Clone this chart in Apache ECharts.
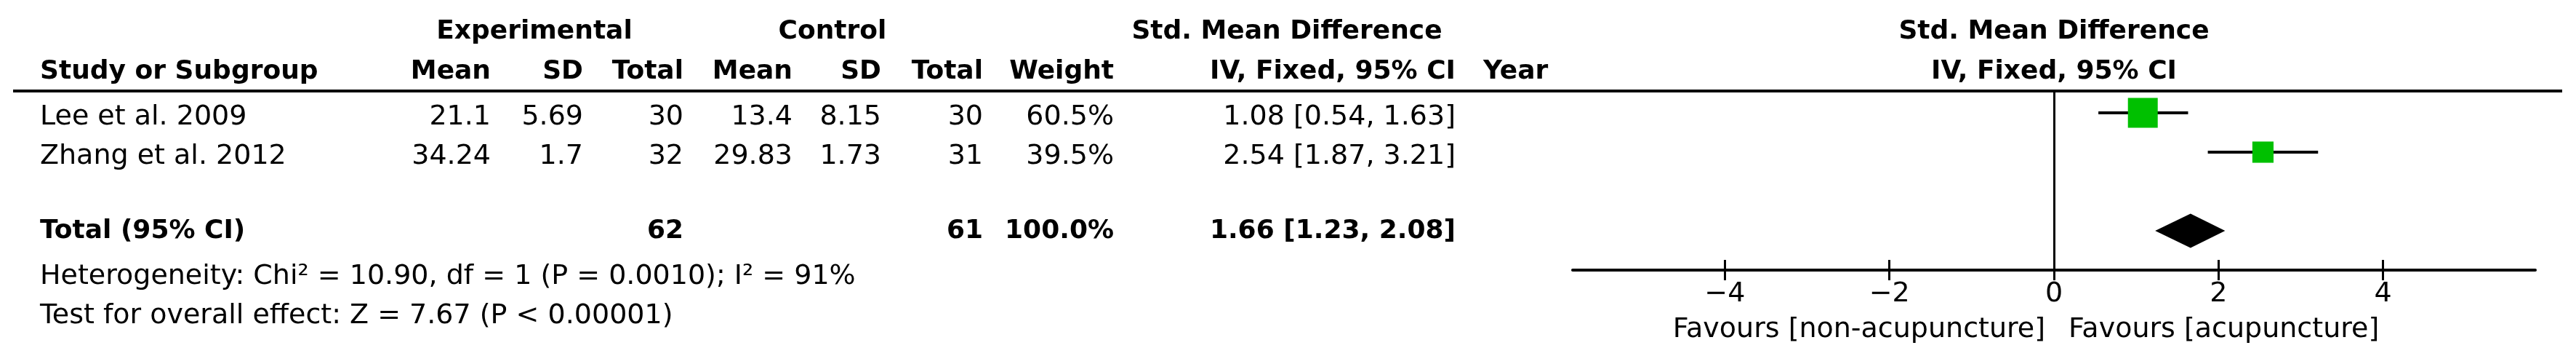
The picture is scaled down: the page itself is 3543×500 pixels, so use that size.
<!DOCTYPE html>
<html>
<head>
<meta charset="utf-8">
<title>Forest plot</title>
<script src="https://cdn.jsdelivr.net/npm/echarts@6/dist/echarts.min.js"></script>
<style>
  html, body { margin: 0; padding: 0; background: #fff; }
  #chart { width: 3543px; height: 500px; }
</style>
</head>
<body>
<div id="chart"></div>
<script>
// study data
const studies = ["Lee et al. 2009", "Zhang et al. 2012"];
const expMean = ["21.1", "34.24"];
const expSd = ["5.69", "1.7"];
const expTotal = [30, 32];
const ctrlMean = ["13.4", "29.83"];
const ctrlSd = ["8.15", "1.73"];
const ctrlTotal = [30, 31];
const weights = [60.5, 39.5];
const smd = [1.08, 2.54];
const ciLow = [0.54, 1.87];
const ciHigh = [1.63, 3.21];
const studyRows = [0, 1];

// pooled result
const totalRow = 3;
const pooledSmd = 1.66;
const pooledLow = 1.23;
const pooledHigh = 2.08;
const totalExp = 62;
const totalCtrl = 61;
const totalWeight = 100.0;
const heterogeneityText = "Heterogeneity: Chi² = 10.90, df = 1 (P = 0.0010); I² = 91%";
const overallText = "Test for overall effect: Z = 7.67 (P < 0.00001)";

// axis
const xTicks = [-4, -2, 0, 2, 4];
const favourLeft = "Favours [non-acupuncture]";
const favourRight = "Favours [acupuncture]";

const FONT = '"DejaVu Sans", Verdana, sans-serif';
const fmtCI = (e, l, h) => e.toFixed(2) + " [" + l.toFixed(2) + ", " + h.toFixed(2) + "]";

// table column right edges and row centres (px)
const col = { study: 55, expMean: 675, expSd: 802, expTotal: 940, ctrlMean: 1090, ctrlSd: 1212, ctrlTotal: 1352, weight: 1532, ci: 2002, year: 2040 };
const rowY = { head1: 44, head2: 99, study: [161, 215], total: 318, het: 380, test: 434, favours: 453 };

function txt(x, y, text, align, bold) {
  return {
    type: "text", x: x, y: y, silent: true,
    style: { text: String(text), fill: "#000", font: (bold ? "bold 36px " : "38px ") + FONT, align: align, verticalAlign: "middle" }
  };
}

const graphics = [];
// header
graphics.push(txt(735, rowY.head1, "Experimental", "center", true));
graphics.push(txt(1145, rowY.head1, "Control", "center", true));
graphics.push(txt(1770, rowY.head1, "Std. Mean Difference", "center", true));
graphics.push(txt(2825, rowY.head1, "Std. Mean Difference", "center", true));
graphics.push(txt(col.study, rowY.head2, "Study or Subgroup", "left", true));
graphics.push(txt(col.expMean, rowY.head2, "Mean", "right", true));
graphics.push(txt(col.expSd, rowY.head2, "SD", "right", true));
graphics.push(txt(col.expTotal, rowY.head2, "Total", "right", true));
graphics.push(txt(col.ctrlMean, rowY.head2, "Mean", "right", true));
graphics.push(txt(col.ctrlSd, rowY.head2, "SD", "right", true));
graphics.push(txt(col.ctrlTotal, rowY.head2, "Total", "right", true));
graphics.push(txt(col.weight, rowY.head2, "Weight", "right", true));
graphics.push(txt(col.ci, rowY.head2, "IV, Fixed, 95% CI", "right", true));
graphics.push(txt(col.year, rowY.head2, "Year", "left", true));
graphics.push(txt(2825, rowY.head2, "IV, Fixed, 95% CI", "center", true));
graphics.push({ type: "line", silent: true, shape: { x1: 18, y1: 125, x2: 3524, y2: 125 }, style: { stroke: "#000", lineWidth: 4 } });

// study rows
studies.forEach((s, i) => {
  const y = rowY.study[i];
  graphics.push(txt(col.study, y, s, "left"));
  graphics.push(txt(col.expMean, y, expMean[i], "right"));
  graphics.push(txt(col.expSd, y, expSd[i], "right"));
  graphics.push(txt(col.expTotal, y, expTotal[i], "right"));
  graphics.push(txt(col.ctrlMean, y, ctrlMean[i], "right"));
  graphics.push(txt(col.ctrlSd, y, ctrlSd[i], "right"));
  graphics.push(txt(col.ctrlTotal, y, ctrlTotal[i], "right"));
  graphics.push(txt(col.weight, y, weights[i].toFixed(1) + "%", "right"));
  graphics.push(txt(col.ci, y, fmtCI(smd[i], ciLow[i], ciHigh[i]), "right"));
});

// total row
graphics.push(txt(col.study, rowY.total, "Total (95% CI)", "left", true));
graphics.push(txt(col.expTotal, rowY.total, totalExp, "right", true));
graphics.push(txt(col.ctrlTotal, rowY.total, totalCtrl, "right", true));
graphics.push(txt(col.weight, rowY.total, totalWeight.toFixed(1) + "%", "right", true));
graphics.push(txt(col.ci, rowY.total, fmtCI(pooledSmd, pooledLow, pooledHigh), "right", true));
graphics.push(txt(col.study, rowY.het, heterogeneityText, "left"));
graphics.push(txt(col.study, rowY.test, overallText, "left"));

// favours labels under the axis
graphics.push(txt(2813, rowY.favours, favourLeft, "right"));
graphics.push(txt(2845, rowY.favours, favourRight, "left"));

const chart = echarts.init(document.getElementById("chart"));

const axisCommon = {
  type: "value",
  min: -5.85,
  max: 5.85,
  position: "bottom",
  splitLine: { show: false }
};

const option = {
  animation: false,
  backgroundColor: "#fff",
  grid: { left: 2163, right: 56, top: 127, bottom: 129, containLabel: false },
  xAxis: [
    Object.assign({}, axisCommon, {
      axisLine: { show: true, onZero: false, lineStyle: { color: "#000", width: 4 } },
      axisTick: { show: true, inside: true, length: 14, lineStyle: { color: "#000", width: 3 }, customValues: xTicks },
      axisLabel: {
        show: true, margin: 14, color: "#000", fontSize: 38, fontFamily: FONT, customValues: xTicks,
        formatter: v => (v < 0 ? "\u2212" + Math.abs(v) : String(v))
      }
    }),
    Object.assign({}, axisCommon, {
      axisLine: { show: false, onZero: false },
      axisTick: { show: true, inside: false, length: 14, lineStyle: { color: "#000", width: 3 }, customValues: xTicks },
      axisLabel: { show: false }
    })
  ],
  yAxis: {
    type: "value",
    inverse: true,
    min: -0.5185,
    max: 4,
    show: false
  },
  series: [
    {
      type: "custom",
      name: "CI",
      xAxisIndex: 0,
      renderItem: (params, api) => {
        const a = api.coord([api.value(0), api.value(2)]);
        const b = api.coord([api.value(1), api.value(2)]);
        return { type: "line", shape: { x1: a[0], y1: a[1], x2: b[0], y2: b[1] }, style: { stroke: "#000", lineWidth: 4 } };
      },
      encode: { x: [0, 1], y: 2 },
      data: studies.map((s, i) => [ciLow[i], ciHigh[i], studyRows[i]]),
      z: 3
    },
    {
      type: "scatter",
      name: "SMD",
      xAxisIndex: 0,
      symbol: "rect",
      symbolSize: d => 41 * Math.pow(d[2] / 60.5, 0.8),
      itemStyle: { color: "#00c000", opacity: 1 },
      data: smd.map((v, i) => [v, studyRows[i], weights[i]]),
      z: 4,
      markLine: {
        silent: true,
        symbol: "none",
        label: { show: false },
        lineStyle: { color: "#000", width: 3, type: "solid" },
        data: [{ xAxis: 0 }],
        z: 2
      }
    },
    {
      type: "custom",
      name: "Total",
      xAxisIndex: 0,
      renderItem: (params, api) => {
        const row = api.value(3);
        const l = api.coord([api.value(0), row]);
        const m = api.coord([api.value(1), row]);
        const r = api.coord([api.value(2), row]);
        const h = 23.5;
        return {
          type: "polygon",
          shape: { points: [[l[0], l[1]], [m[0], m[1] - h], [r[0], r[1]], [m[0], m[1] + h]] },
          style: { fill: "#000" }
        };
      },
      encode: { x: [0, 1, 2], y: 3 },
      data: [[pooledLow, pooledSmd, pooledHigh, totalRow]],
      z: 4
    }
  ],
  graphic: graphics
};

chart.setOption(option);
window.addEventListener("resize", () => chart.resize());
</script>
</body>
</html>
